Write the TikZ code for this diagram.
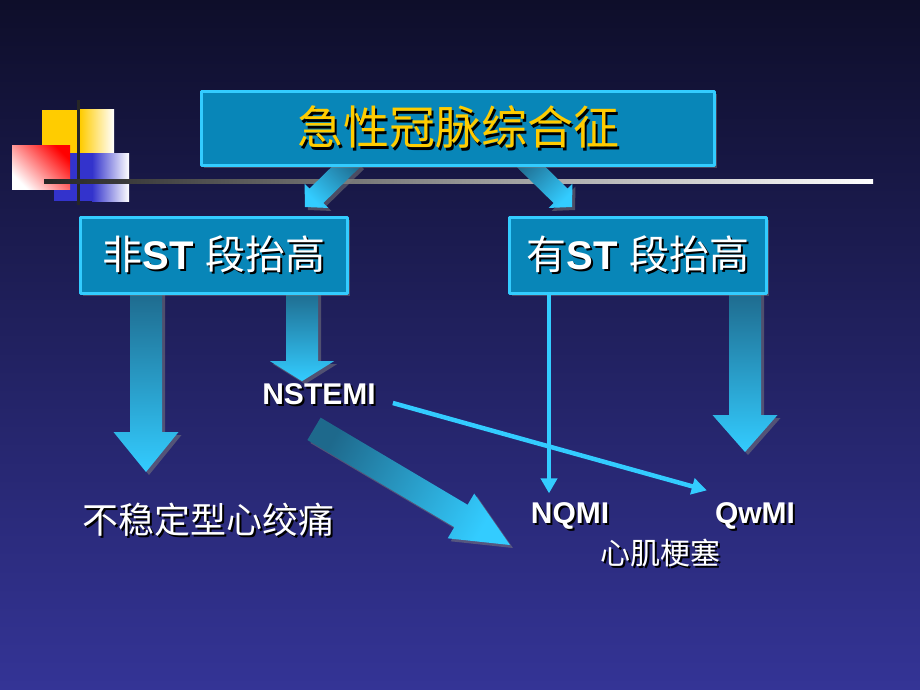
\documentclass[tikz,border=0pt]{standalone}
\usepackage{fontspec}
\setmainfont{Liberation Sans}
\newfontfamily\cjk{Noto Sans CJK SC}
\usetikzlibrary{calc,arrows.meta,shadows}
\pgfdeclarelayer{back}
\pgfdeclarelayer{mid}
\pgfsetlayers{back,mid,main}

\definecolor{bgtop}{RGB}{14,14,42}
\definecolor{bgbot}{RGB}{52,52,150}
\definecolor{boxfill}{RGB}{8,134,184}
\definecolor{boxedge}{RGB}{51,204,255}
\definecolor{cyanhi}{RGB}{51,204,255}
\definecolor{cyanlo}{RGB}{30,105,140}
\definecolor{titlegold}{RGB}{255,204,0}
\definecolor{decoyellow}{RGB}{255,204,0}
\definecolor{decoblue}{RGB}{51,51,204}
\definecolor{decored}{RGB}{255,0,0}

% text with a dark shadow
\newcommand{\shd}[2][2pt]{\makebox[0pt][l]{\kern#1\raisebox{-#1}{\color{black}#2}}#2}
% fat arrow: [shading] {from} {to} {half shaft} {half head} {head length}
\newcommand{\fatarrow}[6][]{%
  \coordinate (neck) at ($(#3)!#6!(#2)$);
  \shade[fat,#1] ($(#2)!#4!90:(#3)$) -- ($(neck)!#4!-90:(#2)$) -- ($(neck)!#5!-90:(#2)$) -- (#3)
    -- ($(neck)!#5!90:(#2)$) -- ($(neck)!#4!90:(#2)$) -- ($(#2)!#4!-90:(#3)$) -- cycle;}

\begin{document}
\begin{tikzpicture}[x=1pt,y=-1pt,line join=round,
  box/.style={draw=boxedge,line width=3pt,fill=boxfill,inner sep=0pt,
    drop shadow={shadow xshift=2.5pt,shadow yshift=-2.5pt,opacity=.45}},
  fat/.style={top color=cyanlo,bottom color=cyanhi,
    drop shadow={shadow xshift=3pt,shadow yshift=-3pt,opacity=.5}},
  thin/.style={draw=cyanhi,line width=4.5pt,-{Triangle[length=15pt,width=16pt]}},
  lbl/.style={text=white,inner sep=0pt}]
\useasboundingbox (0,0) rectangle (920,690);
\begin{pgfonlayer}{back}
  \shade[top color=bgtop,bottom color=bgbot] (0,0) rectangle (920,690);
  % squares at the left
  \fill[decoyellow] (42,110) rectangle (80,178);
  \shade[left color=decoyellow,right color=white] (80,110) rectangle (114,178);
  \fill[decoblue] (54,153) rectangle (92,201);
  \shade[left color=decoblue,right color=white] (92,153) rectangle (129,201);
  \shade[top color=decored,bottom color=white,shading angle=-45] (12,145) rectangle (70,189);
  \draw[line width=3pt,black!85] (78,100) -- (78,205);
  \shade[left color=black!85,right color=white] (44,179) rectangle (873,183);
\end{pgfonlayer}

\node[box,minimum width=513pt,minimum height=74pt,text=titlegold,
  font=\cjk\fontsize{46}{50}\selectfont] (acs) at (458,128.5) {\shd[2.5pt]{急性冠脉综合征}};
\node[box,minimum width=267pt,minimum height=76pt,text=white,
  font=\fontsize{40}{44}\selectfont] (nost) at (214,255.5) {\shd{{\cjk 非}\textbf{ST} {\cjk 段抬高}}};
\node[box,minimum width=257pt,minimum height=76pt,text=white,
  font=\fontsize{40}{44}\selectfont] (yest) at (638,255.5) {\shd{{\cjk 有}\textbf{ST} {\cjk 段抬高}}};

\node[lbl,font=\bfseries\fontsize{30}{34}\selectfont] (nstemi) at (319,395) {\shd{NSTEMI}};
\node[lbl,font=\cjk\fontsize{36}{40}\selectfont] (ua) at (208,521) {\shd{不稳定型心绞痛}};
\node[lbl,font=\bfseries\fontsize{30}{34}\selectfont] (nqmi) at (570,517) {\shd{NQMI}};
\node[lbl,font=\bfseries\fontsize{30}{34}\selectfont] (qwmi) at (755,517) {\shd{QwMI}};
\node[lbl,font=\cjk\fontsize{30}{34}\selectfont] (mi) at (660,554) {\shd{心肌梗塞}};

\coordinate (s1) at ([xshift=-104pt,yshift=8pt]acs.south);
\coordinate (e1) at (305,207);
\coordinate (s2) at ([xshift=65pt,yshift=8pt]acs.south);
\coordinate (e2) at (572,207);
\coordinate (s3) at ([xshift=-68pt,yshift=5pt]nost.south);
\coordinate (e3) at (146,472);
\coordinate (s4) at ([xshift=88pt,yshift=5pt]nost.south);
\coordinate (e4) at ([yshift=2pt]nstemi.north -| s4);
\coordinate (s5) at ([xshift=107pt,yshift=5pt]yest.south);
\coordinate (e5) at (745,452);
\coordinate (s6) at ([xshift=-5pt,yshift=-22pt]nstemi.south);
\coordinate (e6) at (510,545);

\begin{pgfonlayer}{mid}
  \fatarrow[shading angle=-45]{s1}{e1}{10pt}{17pt}{16pt}
  \fatarrow[shading angle=45]{s2}{e2}{10pt}{17pt}{16pt}
  \fatarrow{s3}{e3}{16pt}{32.5pt}{40pt}
  \fatarrow{s4}{e4}{16pt}{32pt}{20pt}
  \fatarrow{s5}{e5}{16pt}{32.5pt}{37pt}
  \fatarrow[shading angle=60]{s6}{e6}{13pt}{26pt}{57pt}
\end{pgfonlayer}

\draw[thin] ([xshift=-89pt]yest.south) -- ([yshift=9pt]nqmi.north -| 549,0);
\draw[thin] ([xshift=17pt,yshift=-8pt]nstemi.east) -- ([xshift=-8pt,yshift=12pt]qwmi.north west);
\end{tikzpicture}
\end{document}
